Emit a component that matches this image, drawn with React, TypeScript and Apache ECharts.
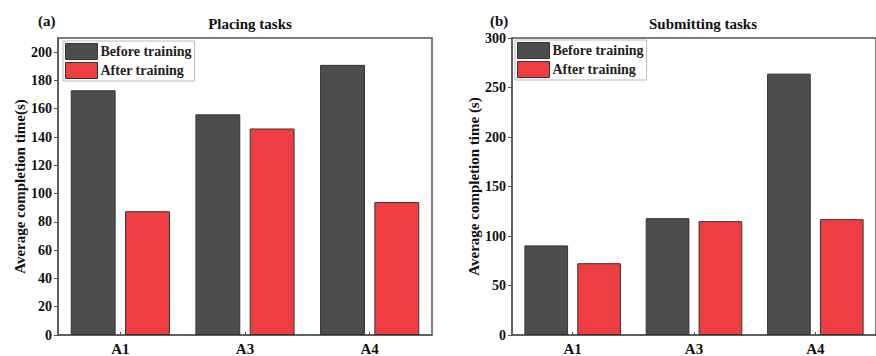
import React, { useEffect, useRef } from "react";
import * as echarts from "echarts";

const categories = ["A1", "A3", "A4"];
const placingBefore = [173, 156, 191];
const placingAfter = [87.5, 146, 94];
const submittingBefore = [90.5, 118, 264];
const submittingAfter = [72.5, 115, 117];
const seriesNames = ["Before training", "After training"];

const DARK = "#4d4d4d";
const RED = "#ef3e42";
const FONT = "Liberation Serif";

export default function App() {
  const ref = useRef<HTMLDivElement>(null);
  useEffect(() => {
    if (!ref.current) return;
    const chart = echarts.init(ref.current, null, { renderer: "svg" });
    const axisLine = { show: true, lineStyle: { color: "#555", width: 1.5 } };
    const xAxisBase = (gridIndex: number) => ({
      type: "category" as const,
      gridIndex,
      data: categories,
      axisLine,
      axisTick: { show: true, alignWithLabel: true, inside: true, length: 3, lineStyle: { color: "#555" } },
      axisLabel: { color: "#111", fontFamily: FONT, fontWeight: "bold", fontSize: 15, margin: 6 },
    });
    const yAxisBase = (gridIndex: number, max: number, interval: number, name: string, nameGap: number) => ({
      type: "value" as const,
      gridIndex,
      min: 0,
      max,
      interval,
      name,
      nameLocation: "middle" as const,
      nameGap,
      nameTextStyle: { color: "#111", fontFamily: FONT, fontWeight: "bold", fontSize: 15 },
      axisLine,
      axisTick: { show: true, length: 4, lineStyle: { color: "#555" } },
      splitLine: { show: false },
      axisLabel: {
        color: "#111",
        fontFamily: FONT,
        fontWeight: "bold",
        fontSize: 14,
        margin: 6,
        showMaxLabel: max % interval === 0,
      },
    });
    const barBase = {
      type: "bar" as const,
      barWidth: "36%",
      barGap: "21%",
      itemStyle: { borderColor: "#333", borderWidth: 1 },
    };
    const legendBase = {
      orient: "vertical" as const,
      icon: "rect",
      itemWidth: 32,
      itemHeight: 16,
      itemGap: 2,
      padding: [2, 3, 2, 2],
      borderColor: "#bbb",
      borderWidth: 1,
      backgroundColor: "#fff",
      textStyle: { color: "#222", fontFamily: FONT, fontWeight: "bold", fontSize: 14, padding: [0, 0, 0, -2] },
      data: seriesNames.map((n) => ({ name: n, itemStyle: { borderColor: "#333", borderWidth: 1 } })),
    };
    const titleStyle = { fontFamily: FONT, fontWeight: "bold", fontSize: 15, color: "#111" };
    chart.setOption({
      animation: false,
      backgroundColor: "#fff",
      title: [
        { text: "Placing tasks", left: 245, top: 11, textAlign: "center", textStyle: titleStyle },
        { text: "Submitting tasks", left: 698, top: 11, textAlign: "center", textStyle: titleStyle },
        { text: "(a)", left: 33, top: 8, textStyle: titleStyle },
        { text: "(b)", left: 485, top: 8, textStyle: titleStyle },
      ],
      legend: [
        { ...legendBase, left: 63, top: 41 },
        { ...legendBase, left: 515, top: 40 },
      ],
      grid: [
        { left: 58, top: 38, width: 374, height: 300, show: true, borderColor: "#555", borderWidth: 1.5, backgroundColor: "transparent" },
        { left: 512, top: 38, width: 372, height: 300, show: true, borderColor: "#555", borderWidth: 1.5, backgroundColor: "transparent" },
      ],
      xAxis: [xAxisBase(0), xAxisBase(1)],
      yAxis: [
        yAxisBase(0, 210, 20, "Average completion time(s)", 29),
        yAxisBase(1, 300, 50, "Average completion time (s)", 30),
      ],
      series: [
        { ...barBase, name: seriesNames[0], xAxisIndex: 0, yAxisIndex: 0, data: placingBefore, itemStyle: { ...barBase.itemStyle, color: DARK } },
        { ...barBase, name: seriesNames[1], xAxisIndex: 0, yAxisIndex: 0, data: placingAfter, itemStyle: { ...barBase.itemStyle, color: RED } },
        { ...barBase, name: seriesNames[0], xAxisIndex: 1, yAxisIndex: 1, data: submittingBefore, itemStyle: { ...barBase.itemStyle, color: DARK } },
        { ...barBase, name: seriesNames[1], xAxisIndex: 1, yAxisIndex: 1, data: submittingAfter, itemStyle: { ...barBase.itemStyle, color: RED } },
      ],
    });
    return () => chart.dispose();
  }, []);
  return <div ref={ref} style={{ width: 876, height: 356, position: "absolute", left: 0, top: 0 }} />;
}
